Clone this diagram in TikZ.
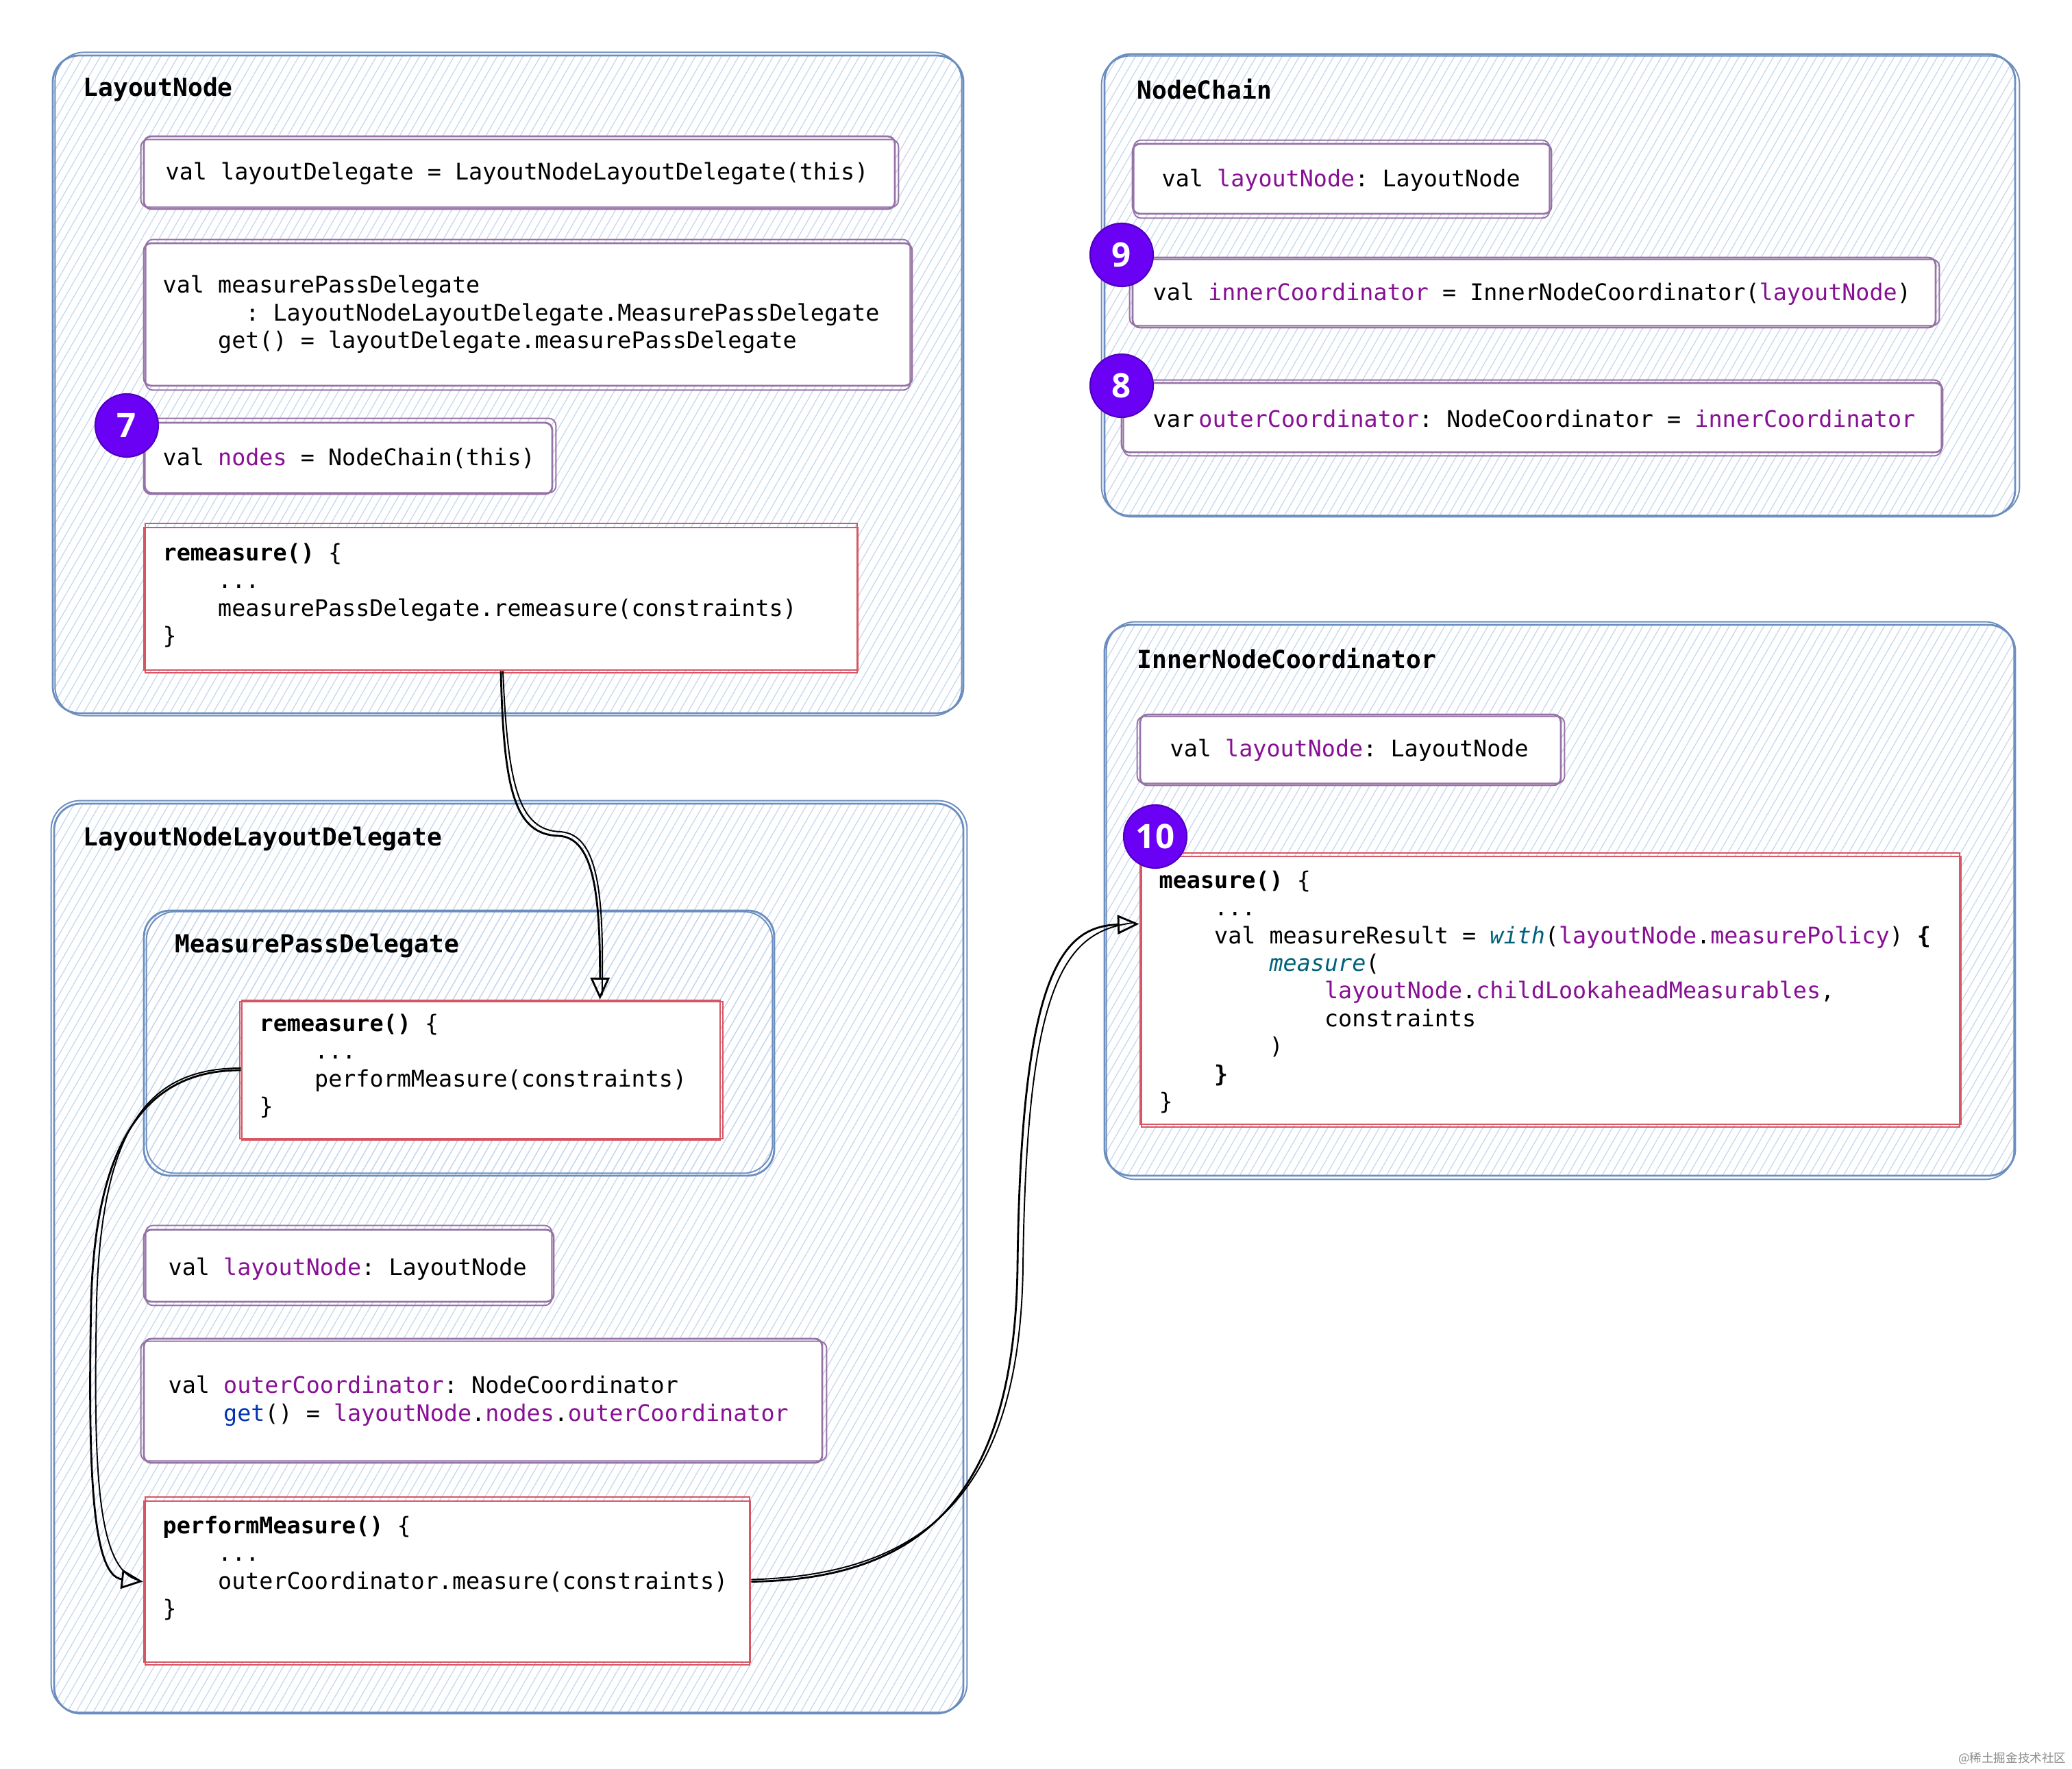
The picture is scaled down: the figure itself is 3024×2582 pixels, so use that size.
\documentclass[tikz,border=0pt]{standalone}
\usepackage{fontspec}
\setmainfont{DejaVu Sans}
\setsansfont{DejaVu Sans}
\setmonofont{DejaVu Sans Mono}
\newfontfamily\cjkfont{Noto Sans CJK SC}
\newfontfamily\badgefont{Open Sans}
\usetikzlibrary{patterns.meta,arrows.meta,fit,calc}

\definecolor{kpurple}{HTML}{871094}
\definecolor{kblue}{HTML}{0033B3}
\definecolor{kteal}{HTML}{00627A}
\definecolor{contblue}{HTML}{6C8EBF}
\definecolor{hatch}{RGB}{196,214,238}
\definecolor{boxpurple}{HTML}{9673A6}
\definecolor{boxred}{RGB}{214,86,100}
\definecolor{badgefill}{RGB}{106,0,244}
\definecolor{badgedraw}{RGB}{80,0,190}

\newcommand{\codeind}[1]{\phantom{#1}}
\newcommand{\pv}[1]{\textcolor{kpurple}{#1}}
\newcommand{\sketchline}[4]{\draw[#2] ($(#1.north west)+#3$) rectangle ($(#1.south east)+#4$);}

\tikzset{
  cont/.style={draw=contblue, line width=0.8pt, rounded corners=11pt,
    pattern={Lines[angle=60,distance=3.1pt,line width=0.35pt]}, pattern color=hatch, inner sep=0pt},
  cont2/.style={draw=contblue, line width=0.55pt, rounded corners=12pt},
  pbox/.style={draw=boxpurple, line width=0.8pt, fill=white, rounded corners=3pt, inner sep=0pt},
  pbox2/.style={draw=boxpurple, line width=0.55pt, rounded corners=3pt},
  rbox/.style={draw=boxred, line width=0.8pt, fill=white, inner sep=0pt},
  rbox2/.style={draw=boxred, line width=0.55pt},
  code/.style={font=\fontsize{9.5}{11.5}\selectfont\ttfamily, align=left, anchor=west, inner sep=0pt},
  title/.style={font=\fontsize{10.3}{12}\selectfont\ttfamily\bfseries, anchor=west, inner sep=0pt},
  badge/.style={circle, fill=badgefill, draw=badgedraw, line width=0.6pt, minimum size=0.92cm,
    inner sep=0pt, text=white, font=\fontsize{14}{14}\selectfont\badgefont\bfseries},
  arr/.style={line width=0.8pt, -{Triangle[open,length=9pt,width=8pt,line width=0.8pt]}},
  arr2/.style={line width=0.55pt},
}

\begin{document}
\begin{tikzpicture}[x=0.01cm,y=-0.01cm]
\useasboundingbox (0,0) rectangle (3024,2582);

% containers
\node[cont, fit={(77,81)(1406,1041)}] (ln) {};
\node[cont, fit={(79,1173)(1406,2501)}] (lnld) {};
\node[cont, fit={(210,1329)(1130,1716)}] (mpd) {};
\node[cont, fit={(1612,79)(2941,754)}] (nc) {};
\node[cont, fit={(1612,912)(2941,1716)}] (inc) {};
\sketchline{ln}{cont2}{(4,-4)}{(-3,3)}
\sketchline{lnld}{cont2}{(-3,-3)}{(4,-3)}
\sketchline{mpd}{cont2}{(5,3)}{(-4,-5)}
\sketchline{nc}{cont2}{(-3,4)}{(5,-3)}
\sketchline{inc}{cont2}{(4,-3)}{(-3,4)}

% titles
\node[title] (tln) at (121,130) {LayoutNode};
\node[title] (tlnld) at (121,1224) {LayoutNodeLayoutDelegate};
\node[title] (tmpd) at (255,1380) {MeasurePassDelegate};
\node[title] (tnc) at (1659,130) {NodeChain};
\node[title] (tinc) at (1659,961) {InnerNodeCoordinator};

% inner boxes
\node[pbox, fit={(210,199)(1306,305)}] (bA) {};
\node[pbox, fit={(210,355)(1331,563)}] (bB) {};
\node[pbox, fit={(210,617)(806,721)}] (bC) {};
\node[rbox, fit={(210,770)(1252,978)}] (rm1) {};
\node[rbox, fit={(353,1460)(1051,1664)}] (rm2) {};
\node[pbox, fit={(210,1795)(808,1900)}] (bLN) {};
\node[pbox, fit={(210,1954)(1200,2135)}] (bOC) {};
\node[rbox, fit={(210,2191)(1095,2426)}] (pm) {};
\node[pbox, fit={(1653,210)(2264,312)}] (ncLN) {};
\node[pbox, fit={(1653,376)(2825,478)}] (ncIC) {};
\node[pbox, fit={(1637,559)(2835,660)}] (ncOC) {};
\node[pbox, fit={(1664,1043)(2278,1146)}] (incLN) {};
\node[rbox, fit={(1664,1250)(2862,1641)}] (ms) {};

\sketchline{bA}{pbox2}{(-3,6)}{(4,-4)}
\sketchline{bB}{pbox2}{(4,-4)}{(-4,5)}
\sketchline{bC}{pbox2}{(3,-5)}{(4,-3)}
\sketchline{rm1}{rbox2}{(3,-5)}{(-2,3)}
\sketchline{rm2}{rbox2}{(-2,3)}{(3,-3)}
\sketchline{bLN}{pbox2}{(4,-5)}{(-4,4)}
\sketchline{bOC}{pbox2}{(-3,5)}{(5,-4)}
\sketchline{pm}{rbox2}{(3,-5)}{(-2,3)}
\sketchline{ncLN}{pbox2}{(3,-4)}{(-4,5)}
\sketchline{ncIC}{pbox2}{(-3,4)}{(4,-4)}
\sketchline{ncOC}{pbox2}{(4,-3)}{(-3,4)}
\sketchline{incLN}{pbox2}{(-3,4)}{(4,-4)}
\sketchline{ms}{rbox2}{(3,-4)}{(-3,3)}

% code texts
\node[code] (cA) at (241,253) {val layoutDelegate = LayoutNodeLayoutDelegate(this)};
\node[code] (cB) at (237,459) {val measurePassDelegate\\
\codeind{xxxxxx}: LayoutNodeLayoutDelegate.MeasurePassDelegate\\
\codeind{xxxx}get() = layoutDelegate.measurePassDelegate};
\node[code] (cC) at (237,669) {val \pv{nodes} = NodeChain(this)};
\node[code] (cD) at (237,869) {\textbf{remeasure()} \{\\
\codeind{xxxx}...\\
\codeind{xxxx}measurePassDelegate.remeasure(constraints)\\
\}};
\node[code] (cE) at (378,1556) {\textbf{remeasure()} \{\\
\codeind{xxxx}...\\
\codeind{xxxx}performMeasure(constraints)\\
\}};
\node[code] (cF) at (245,1852) {val \pv{layoutNode}: LayoutNode};
\node[code] (cG) at (245,2045) {val \pv{outerCoordinator}: NodeCoordinator\\
\codeind{xxxx}\textcolor{kblue}{get}() = \pv{layoutNode}.\pv{nodes}.\pv{outerCoordinator}};
\node[code] (cH) at (237,2289) {\textbf{performMeasure()} \{\\
\codeind{xxxx}...\\
\codeind{xxxx}outerCoordinator.measure(constraints)\\
\}};
\node[code] (cI) at (1695,263) {val \pv{layoutNode}: LayoutNode};
\node[code] (cJ) at (1682,429) {val \pv{innerCoordinator} = InnerNodeCoordinator(\pv{layoutNode})};
\node[code] (cK) at (1682,611) {var\hspace{1.8pt}\pv{outerCoordinator}: NodeCoordinator = \pv{innerCoordinator}};
\node[code] (cL) at (1707,1095) {val \pv{layoutNode}: LayoutNode};
\node[code] (cM) at (1691,1448) {\textbf{measure()} \{\\
\codeind{xxxx}...\\
\codeind{xxxx}val measureResult = \textcolor{kteal}{\textit{with}}(\pv{layoutNode}.\pv{measurePolicy}) \textbf{\{}\\
\codeind{xxxxxxxx}\textcolor{kteal}{\textit{measure}}(\\
\codeind{xxxxxxxxxxxx}\pv{layoutNode}.\pv{childLookaheadMeasurables},\\
\codeind{xxxxxxxxxxxx}constraints\\
\codeind{xxxxxxxx})\\
\codeind{xxxx}\textbf{\}}\\
\}};

% badges
\node[badge] (b7) at (185,621) {7};
\node[badge] (b9) at (1637,372) {9};
\node[badge] (b8) at (1637,563) {8};
\node[badge] (b10) at (1686,1221) {10};

% connectors
\draw[arr] (rm1.south) .. controls (735,1150) and (750,1218) .. (815,1220)
  .. controls (865,1222) and (876,1300) .. ($(rm2.north west)+(524,0)$);
\draw[arr2] ($(rm1.south)+(3,0)$) .. controls (741,1150) and (758,1212) .. (818,1214)
  .. controls (872,1218) and (882,1300) .. ($(rm2.north west)+(527,-6)$);

\draw[arr] (rm2.west) .. controls (230,1562) and (140,1640) .. (133,1900)
  .. controls (128,2150) and (135,2300) .. (pm.west);
\draw[arr2] ($(rm2.west)+(0,-3)$) .. controls (222,1559) and (148,1636) .. (141,1900)
  .. controls (136,2150) and (142,2292) .. ($(pm.west)+(-6,-2)$);

\draw[arr] (pm.east) .. controls (1350,2305) and (1480,2180) .. (1485,1850)
  .. controls (1490,1420) and (1550,1352) .. ($(ms.north west)+(0,100)$);
\draw[arr2] ($(pm.east)+(0,-3)$) .. controls (1356,2298) and (1488,2174) .. (1493,1850)
  .. controls (1498,1426) and (1556,1358) .. ($(ms.north west)+(-6,98)$);

% watermark
\node[font=\fontsize{5}{6}\selectfont\cjkfont, text=black!45, anchor=east, inner sep=0pt] (wm) at (3016,2567) {@稀土掘金技术社区};
\end{tikzpicture}
\end{document}
